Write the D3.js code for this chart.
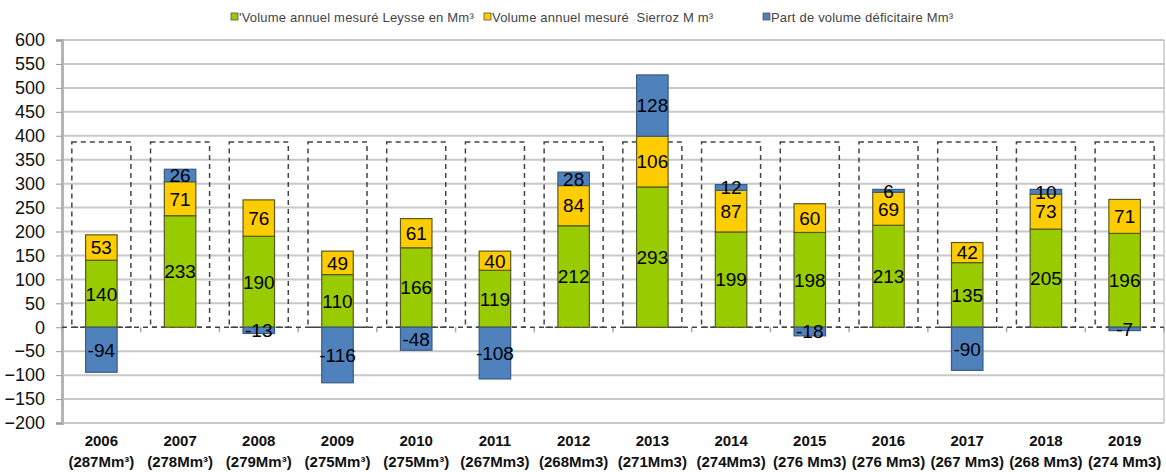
<!DOCTYPE html>
<html>
<head>
<meta charset="utf-8">
<script src="https://cdn.jsdelivr.net/npm/d3@7"></script>
<style>
  body { margin: 0; background: #fff; }
  text { font-family: "Liberation Sans Narrow", "Arial Narrow", "Liberation Sans", Arial, sans-serif; }
</style>
</head>
<body>
<div id="chart"></div>
<script>
var years = ["2006","2007","2008","2009","2010","2011","2012","2013","2014","2015","2016","2017","2018","2019"]
var totals = ["(287Mm\u00b3)","(278Mm\u00b3)","(279Mm\u00b3)","(275Mm\u00b3)","(275Mm\u00b3)","(267Mm3)","(268Mm3)",
              "(271Mm3)","(274Mm3)","(276 Mm3)","(276 Mm3)","(267 Mm3)","(268 Mm3)","(274 Mm3)"]
var leysse  = [140, 233, 190, 110, 166, 119, 212, 293, 199, 198, 213, 135, 205, 196]
var sierroz = [53, 71, 76, 49, 61, 40, 84, 106, 87, 60, 69, 42, 73, 71]
var deficit = [-94, 26, -13, -116, -48, -108, 28, 128, 12, -18, 6, -90, 10, -7]
var boxLevel = 387
var yTicks = d3.range(-200, 601, 50)
var legendNames = ["'Volume annuel mesur\u00e9 Leysse en Mm\u00b3",
                   "Volume annuel mesur\u00e9  Sierroz M m\u00b3",
                   "Part de volume d\u00e9ficitaire Mm\u00b3"]
var colors = ["#99cc00", "#ffcc00", "#4f81bd"]

var width = 1166, height = 472
var margin = {top: 40, right: 2, bottom: 49, left: 62}
var w = width - margin.left - margin.right,
    h = height - margin.top - margin.bottom

var svg = d3.select("#chart").append("svg")
    .attr("width", width)
    .attr("height", height)

var g = svg.append("g")
    .attr("transform", "translate(" + margin.left + "," + margin.top + ")")

var x = d3.scaleBand().domain(years).range([0, w]).paddingInner(0.6).paddingOuter(0.3)
var xBox = d3.scaleBand().domain(years).range([0, w]).paddingInner(0.25).paddingOuter(0.125)
var y = d3.scaleLinear().domain([-200, 600]).range([h, 0])

// grid
g.selectAll(".grid").data(yTicks).enter().append("line")
    .attr("x1", 0).attr("x2", w)
    .attr("y1", function(d) { return y(d) }).attr("y2", function(d) { return y(d) })
    .style("stroke", function(d) { return d === 0 ? "none" : "#c8c8c8" })
    .style("stroke-width", 2)

// right border
g.append("line").attr("x1", w).attr("x2", w).attr("y1", 0).attr("y2", h)
    .style("stroke", "#c8c8c8").style("stroke-width", 1.5)

// y axis
var yAxis = d3.axisLeft(y).tickValues(yTicks).tickSize(6).tickPadding(11)
var ya = g.append("g").call(yAxis)
ya.select(".domain").style("stroke", "#b4b4b4").style("stroke-width", 3)
ya.selectAll(".tick line").style("stroke", "#999")
ya.selectAll("text").style("font-size", "18px").style("fill", "#111")

// x ticks at band boundaries along 0
g.selectAll(".xt").data(d3.range(years.length + 1)).enter().append("line")
    .attr("x1", function(i) { return i * x.step() }).attr("x2", function(i) { return i * x.step() })
    .attr("y1", y(0)).attr("y2", y(0) + 5)
    .style("stroke", "#aaa").style("stroke-width", 1.5)

// dashed boxes
g.selectAll(".box").data(years).enter().append("rect")
    .attr("x", function(d) { return xBox(d) })
    .attr("width", xBox.bandwidth())
    .attr("y", y(boxLevel))
    .attr("height", y(0) - y(boxLevel))
    .style("fill", "none").style("stroke", "#444").style("stroke-width", 1.5)
    .style("stroke-dasharray", "5,4")

// zero line (dashed)
g.append("line").attr("x1", 0).attr("x2", w).attr("y1", y(0)).attr("y2", y(0))
    .style("stroke", "#444").style("stroke-width", 1.5).style("stroke-dasharray", "5,4")

// segments
var segs = []
years.forEach(function(yr, i) {
    var top1 = leysse[i], top2 = leysse[i] + sierroz[i]
    segs.push({year: yr, y0: 0, y1: top1, v: leysse[i], c: 0})
    segs.push({year: yr, y0: top1, y1: top2, v: sierroz[i], c: 1})
    if (deficit[i] >= 0)
        segs.push({year: yr, y0: top2, y1: top2 + deficit[i], v: deficit[i], c: 2})
    else
        segs.push({year: yr, y0: deficit[i], y1: 0, v: deficit[i], c: 2})
})

g.selectAll(".seg").data(segs).enter().append("rect")
    .attr("x", function(d) { return x(d.year) })
    .attr("width", x.bandwidth())
    .attr("y", function(d) { return y(d.y1) })
    .attr("height", function(d) { return y(d.y0) - y(d.y1) })
    .style("fill", function(d) { return colors[d.c] })
    .style("stroke", function(d) { return d.c === 2 ? "#3a5a80" : "#5a5a20" })
    .style("stroke-width", 1.2)

g.selectAll(".lbl").data(segs).enter().append("text")
    .attr("x", function(d) { return x(d.year) + x.bandwidth() / 2 })
    .attr("y", function(d) { return y((d.y0 + d.y1) / 2) })
    .attr("dy", "0.36em")
    .attr("text-anchor", "middle")
    .style("font-size", "19px")
    .style("fill", "#000")
    .text(function(d) { return d.v })

// x labels
var xl = g.selectAll(".xl").data(years).enter().append("text")
    .attr("x", function(d) { return x(d) + x.bandwidth() / 2 })
    .attr("y", h + 23)
    .attr("text-anchor", "middle")
    .style("font-size", "15px").style("font-weight", "bold").style("fill", "#111")
xl.append("tspan").text(function(d) { return d })
xl.append("tspan")
    .attr("x", function(d) { return x(d) + x.bandwidth() / 2 })
    .attr("dy", 21)
    .text(function(d, i) { return totals[i] })

// legend
var legX = [231, 484, 763]
var leg = svg.selectAll(".leg").data(legendNames).enter().append("g")
    .attr("transform", function(d, i) { return "translate(" + legX[i] + ",17)" })
leg.append("rect").attr("x", 0).attr("y", -4).attr("width", 7).attr("height", 7)
    .style("fill", function(d, i) { return colors[i] })
    .style("stroke", "#555").style("stroke-width", 0.8)
leg.append("text").attr("x", 8).attr("y", 0).attr("dy", "0.35em")
    .style("font-size", "13px").style("letter-spacing", "0.2px").style("fill", "#444")
    .style("white-space", "pre")
    .text(function(d) { return d })
</script>
</body>
</html>
